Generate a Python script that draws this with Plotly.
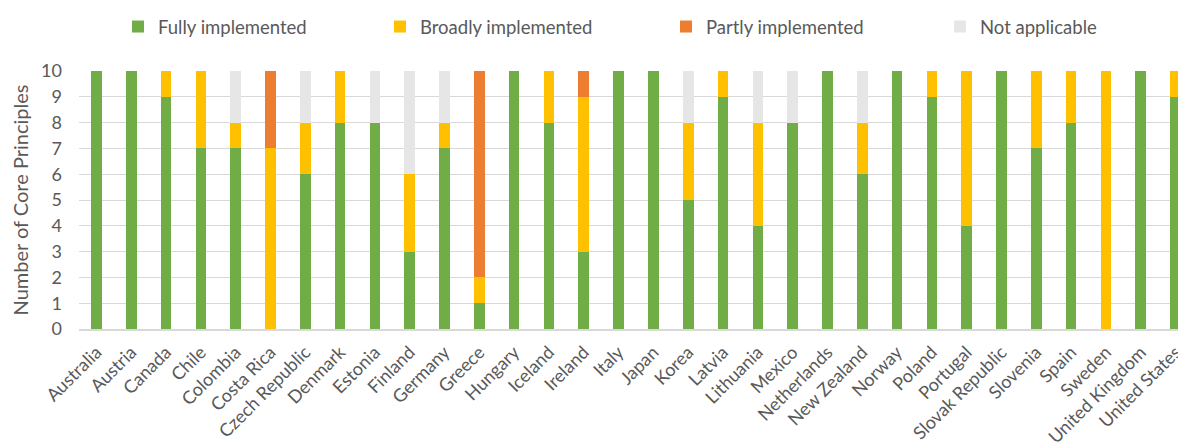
import plotly.graph_objects as go

countries = ["Australia", "Austria", "Canada", "Chile", "Colombia", "Costa Rica",
             "Czech Republic", "Denmark", "Estonia", "Finland", "Germany", "Greece",
             "Hungary", "Iceland", "Ireland", "Italy", "Japan", "Korea", "Latvia",
             "Lithuania", "Mexico", "Netherlands", "New Zealand", "Norway", "Poland",
             "Portugal", "Slovak Republic", "Slovenia", "Spain", "Sweden",
             "United Kingdom", "United States"]

fully     = [10, 10, 9, 7, 7, 0, 6, 8, 8, 3, 7, 1, 10, 8, 3, 10, 10, 5, 9, 4, 8, 10, 6, 10, 9, 4, 10, 7, 8, 0, 10, 9]
broadly   = [0, 0, 1, 3, 1, 7, 2, 2, 0, 3, 1, 1, 0, 2, 6, 0, 0, 3, 1, 4, 0, 0, 2, 0, 1, 6, 0, 3, 2, 10, 0, 1]
partly    = [0, 0, 0, 0, 0, 3, 0, 0, 0, 0, 0, 8, 0, 0, 1, 0, 0, 0, 0, 0, 0, 0, 0, 0, 0, 0, 0, 0, 0, 0, 0, 0]
not_appl  = [0, 0, 0, 0, 2, 0, 2, 0, 2, 4, 2, 0, 0, 0, 0, 0, 0, 2, 0, 2, 2, 0, 2, 0, 0, 0, 0, 0, 0, 0, 0, 0]

series_names = ["Fully implemented", "Broadly implemented", "Partly implemented", "Not applicable"]
series_vals = [fully, broadly, partly, not_appl]
colors = ["#70AD47", "#FFC000", "#ED7D31", "#E7E6E6"]
legend_ids = ["legend", "legend2", "legend3", "legend4"]

FONT = "Lato"
TXT = "#595959"

fig = go.Figure()
for name, vals, col, lg in zip(series_names, series_vals, colors, legend_ids):
    fig.add_trace(go.Bar(x=countries, y=vals, name=name, marker_color=col,
                         marker_line_width=0, legend=lg))

W, H = 1178, 444
ml, mt, mb = 79, 71, 115
pw = W - ml
ph = H - mt - mb

def lx(px):
    return (px - ml) / pw

leg_y = (H - mb - 27) / ph
leg_common = dict(orientation="h", yanchor="middle", xanchor="left",
                  font=dict(family=FONT, size=18.5, color=TXT),
                  bgcolor="rgba(0,0,0,0)", borderwidth=0, y=leg_y)
symbol_left = [143, 405, 691, 965]

layout_legends = {}
for lg, sx in zip(legend_ids, symbol_left):
    layout_legends[lg] = dict(leg_common, x=lx(sx - 25))

fig.update_layout(
    width=W, height=H,
    margin=dict(l=ml, r=0, t=mt, b=mb, pad=0, autoexpand=False),
    barmode="stack",
    bargap=0.695,
    plot_bgcolor="white",
    paper_bgcolor="white",
    showlegend=True,
    font=dict(family=FONT, color=TXT),
    **layout_legends,
)
fig.update_xaxes(range=[-0.5, 31.07], tickangle=-45, showgrid=False,
                 tickfont=dict(family=FONT, size=18, color=TXT),
                 showline=True, linecolor="#D9D9D9", linewidth=1.5,
                 ticks="", ticklabelstandoff=4, automargin=False,
                 fixedrange=True)
fig.update_yaxes(range=[0, 10], dtick=1, showgrid=True, gridcolor="#D9D9D9",
                 gridwidth=1, zeroline=False, showline=False, ticks="",
                 ticklabelstandoff=16, automargin=False,
                 tickfont=dict(family=FONT, size=18, color=TXT),
                 title=dict(text="Number of Core Principles", standoff=7,
                            font=dict(family=FONT, size=20, color=TXT)))

fig.write_html("out.html")
